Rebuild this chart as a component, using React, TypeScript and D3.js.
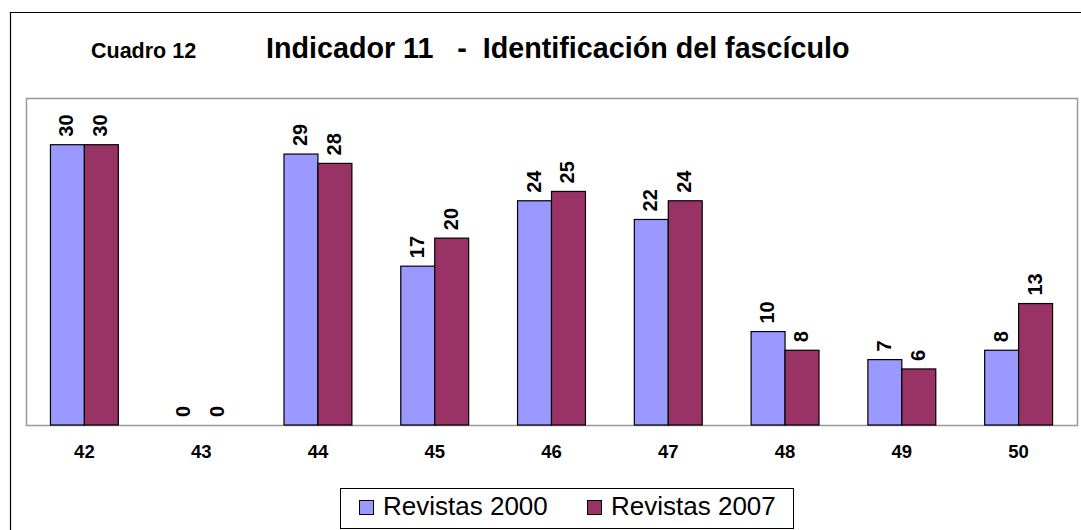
import React from "react";
import * as d3 from "d3";

const categories = ["42", "43", "44", "45", "46", "47", "48", "49", "50"];
const series = ["Revistas 2000", "Revistas 2007"];
const values2000 = [30, 0, 29, 17, 24, 22, 10, 7, 8];
const values2007 = [30, 0, 28, 20, 25, 24, 8, 6, 13];
const colors = ["#9999FF", "#993366"];
const yMax = 35;

const W = 1081;
const H = 530;
const plot = { left: 26, right: 1077, top: 98, bottom: 425 };
const font = "'Liberation Sans', Arial, sans-serif";

export default function App() {
  const x0 = d3
    .scaleBand<string>()
    .domain(categories)
    .range([plot.left, plot.right])
    .paddingInner(0)
    .paddingOuter(0);
  const x1 = d3
    .scaleBand<string>()
    .domain(series)
    .range([0, x0.bandwidth()])
    .paddingInner(0)
    .paddingOuter(0.72);
  const y = d3.scaleLinear().domain([0, yMax]).range([plot.bottom, plot.top]);
  const data = [values2000, values2007];

  return (
    <svg
      width={W}
      height={H}
      style={{ position: "absolute", left: 0, top: 0, background: "#fff" }}
      fontFamily={font}
    >
      <rect x={0} y={0} width={W} height={H} fill="#fff" />
      {/* outer frame */}
      <path d={`M10.5,${H} V12.5 H${W}`} fill="none" stroke="#000" strokeWidth={1.2} />
      {/* title */}
      <text x={91} y={58} fontSize={21.5} fontWeight="bold" fill="#000">
        Cuadro 12
      </text>
      <text
        x={266}
        y={58}
        fontSize={28.7}
        fontWeight="bold"
        fill="#000"
        style={{ whiteSpace: "pre" }}
        xmlSpace="preserve"
      >
        {"Indicador 11   -  Identificación del fascículo"}
      </text>
      {/* plot area */}
      <rect
        x={plot.left + 0.5}
        y={plot.top + 0.5}
        width={plot.right - plot.left}
        height={plot.bottom - plot.top}
        fill="#fff"
        stroke="#999"
        strokeWidth={1.5}
      />
      {categories.map((c, i) => (
        <g key={c}>
          {series.map((s, j) => {
            const v = data[j][i];
            const bx = (x0(c) as number) + (x1(s) as number);
            const bw = x1.bandwidth();
            const by = y(v);
            const cx = bx + bw / 2;
            return (
              <g key={s}>
                {v > 0 && (
                  <rect
                    x={bx}
                    y={by}
                    width={bw}
                    height={plot.bottom - by}
                    fill={colors[j]}
                    stroke="#000"
                    strokeWidth={1.2}
                  />
                )}
                <text
                  transform={`translate(${cx + 6},${by - 8}) rotate(-90)`}
                  textAnchor="start"
                  fontSize={20}
                  fontWeight="bold"
                  fill="#000"
                >
                  {v}
                </text>
              </g>
            );
          })}
          <text
            x={(x0(c) as number) + x0.bandwidth() / 2}
            y={458}
            textAnchor="middle"
            fontSize={18.5}
            fontWeight="bold"
            fill="#000"
          >
            {c}
          </text>
        </g>
      ))}
      {/* legend */}
      <rect x={340.5} y={488.5} width={453} height={40} fill="#fff" stroke="#000" strokeWidth={1} />
      {series.map((s, j) => {
        const lx = j === 0 ? 359 : 587;
        return (
          <g key={s}>
            <rect x={lx + 0.5} y={500.5} width={14} height={14} fill={colors[j]} stroke="#000" strokeWidth={1} />
            <text x={lx + 24} y={515} fontSize={26} fill="#000">
              {s}
            </text>
          </g>
        );
      })}
    </svg>
  );
}
